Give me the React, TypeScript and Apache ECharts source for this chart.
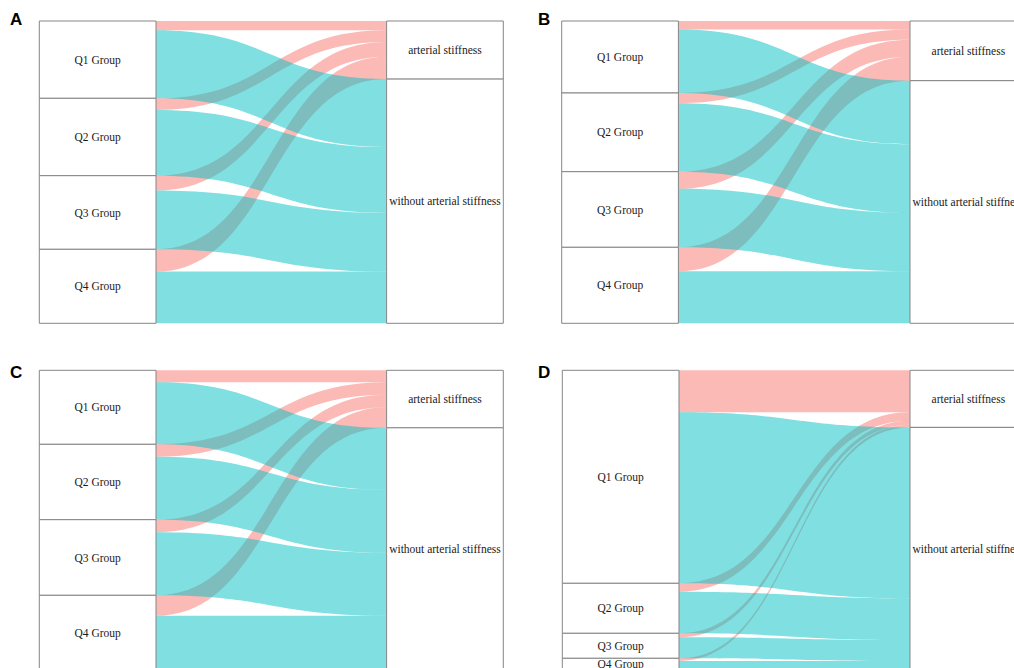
import React, { useEffect, useRef } from "react";
import * as echarts from "echarts";

// Quartile groups (left column) and outcomes (right column)
const groups = ["Q1 Group", "Q2 Group", "Q3 Group", "Q4 Group"];
const outcomes = ["arterial stiffness", "without arterial stiffness"];
const panelLetters = ["A", "B", "C", "D"];

// Participants per quartile with / without arterial stiffness
const stiffA = [93, 117, 148, 223];
const noneA = [680, 657, 588, 517];

const stiffB = [85, 102, 170, 240];
const noneB = [635, 685, 586, 520];

const stiffC = [120, 125, 125, 205];
const noneC = [620, 629, 631, 545];

const stiffD = [420, 84, 40, 27];
const noneD = [1710, 416, 210, 93];

const PINK = "#F8766D";
const CYAN = "#00BFC4";

type Box = { left: number; top: number; width: number; height: number };

function alluvial(stiff: number[], none: number[], box: Box) {
  const nodes = [...groups, ...outcomes].map((name) => ({ name }));
  // pink flows first so the cyan flows are layered over them
  const links = [
    ...groups.map((g, i) => ({
      source: g,
      target: outcomes[0],
      value: stiff[i],
      lineStyle: { color: PINK, opacity: 0.5, curveness: 0.5 },
    })),
    ...groups.map((g, i) => ({
      source: g,
      target: outcomes[1],
      value: none[i],
      lineStyle: { color: CYAN, opacity: 0.5, curveness: 0.5 },
    })),
  ];
  return {
    type: "sankey",
    left: box.left,
    top: box.top,
    width: box.width,
    height: box.height,
    nodeWidth: 116.7,
    nodeGap: 0,
    layoutIterations: 0,
    nodeAlign: "justify",
    draggable: false,
    silent: true,
    emphasis: { disabled: true },
    data: nodes,
    links,
    itemStyle: { color: "#ffffff", borderColor: "#858585", borderWidth: 1 },
    lineStyle: { opacity: 0.5, curveness: 0.5 },
    label: {
      show: true,
      position: "inside",
      fontFamily: "Liberation Serif",
      fontSize: 11.5,
      color: "#1a1a1a",
    },
  };
}

const boxes: Box[] = [
  { left: 39.3, top: 21, width: 464, height: 302.3 },
  { left: 561.7, top: 21, width: 465, height: 302.3 },
  { left: 39.3, top: 370.3, width: 464, height: 300 },
  { left: 562.3, top: 370.3, width: 464.4, height: 300 },
];

const letterPos = [
  [10, 11],
  [538, 11],
  [10, 364],
  [538, 364],
];

export default function App() {
  const ref = useRef<HTMLDivElement>(null);

  useEffect(() => {
    if (!ref.current) return;
    const chart = echarts.init(ref.current, undefined, { renderer: "svg" });
    const panels = [
      [stiffA, noneA],
      [stiffB, noneB],
      [stiffC, noneC],
      [stiffD, noneD],
    ];
    chart.setOption({
      animation: false,
      backgroundColor: "#ffffff",
      series: panels.map((p, i) => alluvial(p[0], p[1], boxes[i])),
      graphic: panelLetters.map((t, i) => ({
        type: "text",
        left: letterPos[i][0],
        top: letterPos[i][1],
        style: {
          text: t,
          fontFamily: "Liberation Sans",
          fontWeight: "bold",
          fontSize: 17,
          fill: "#000000",
        },
      })),
    });
    return () => chart.dispose();
  }, []);

  return (
    <div
      ref={ref}
      style={{ position: "absolute", left: 0, top: 0, width: 1014, height: 668 }}
    />
  );
}
